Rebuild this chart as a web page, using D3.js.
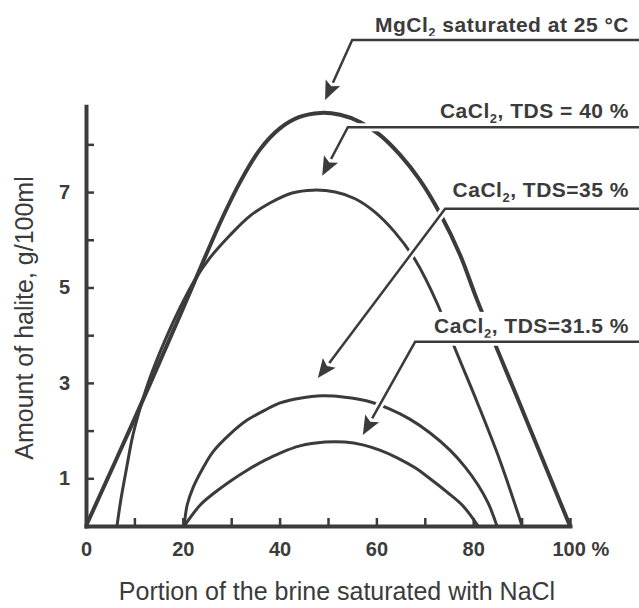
<!DOCTYPE html>
<html>
<head>
<meta charset="utf-8">
<script src="https://cdn.jsdelivr.net/npm/d3@7"></script>
<style>
  body { margin: 0; background: #fff; }
  text { font-family: "Liberation Sans", Arial, sans-serif; fill: #3b3b3b; }
</style>
</head>
<body>
<div id="chart"></div>
<script>
// Halite yield when a brine is mixed with NaCl-saturated brine
// x = portion of brine saturated with NaCl (%), y = halite g/100ml

let mgcl2Sat = [[0, 0], [10, 2.24], [20, 4.55], [28, 6.42], [32, 7.24], [36, 7.9],
    [40, 8.33], [44, 8.57], [48.4, 8.66], [52.5, 8.62], [56.6, 8.47], [60.7, 8.20],
    [64.9, 7.78], [69.0, 7.25], [73.1, 6.56], [77.3, 5.68], [80.8, 4.74], [90.4, 2.37],
    [100, 0]];

let cacl2Tds40 = [[6.4, 0], [7.2, 0.55], [8.3, 1.17], [9.7, 1.91], [11.4, 2.54], [13.2, 3.10],
    [15.9, 3.79], [19.4, 4.57], [22.5, 5.16], [25.6, 5.62], [29.8, 6.10], [33.9, 6.50],
    [38.0, 6.77], [42.6, 6.98], [46.9, 7.04], [51.5, 7.00], [55.6, 6.86], [59.7, 6.58],
    [63.8, 6.16], [68.0, 5.58], [72.5, 4.68], [76.2, 3.73], [80.8, 2.60], [85.5, 1.38],
    [90.1, 0]];

let cacl2Tds35 = [[20.3, 0], [20.9, 0.44], [22.1, 0.80], [24.2, 1.22], [26.2, 1.55],
    [29.8, 1.93], [33.3, 2.22], [37.0, 2.43], [40.1, 2.58], [44.2, 2.68], [48.8, 2.73],
    [53.5, 2.70], [58.1, 2.62], [62.8, 2.45], [66.9, 2.24], [71.1, 1.95], [75.2, 1.59],
    [78.3, 1.24], [81.0, 0.86], [83.1, 0.48], [84.1, 0.23], [84.9, 0]];

let cacl2Tds315 = [[20.3, 0], [23.6, 0.44], [26.2, 0.67], [29.8, 0.94], [33.3, 1.17],
    [37.0, 1.38], [40.1, 1.53], [44.2, 1.68], [49.4, 1.76], [53.5, 1.76], [57.2, 1.70],
    [60.7, 1.59], [64.3, 1.43], [68.0, 1.22], [71.1, 0.99], [74.6, 0.71], [77.9, 0.42],
    [81.0, 0]];

// label text: [before subscript, subscript, after]
let seriesLabels = [
    ["MgCl", "2", " saturated at 25 °C"],
    ["CaCl", "2", ", TDS = 40 %"],
    ["CaCl", "2", ", TDS=35 %"],
    ["CaCl", "2", ", TDS=31.5 %"]
];

let xTicks = [0, 10, 20, 30, 40, 50, 60, 70, 80, 90, 100];
let xTickLabels = ["0", "", "20", "", "40", "", "60", "", "80", "", "100 %"];
let yTicks = [1, 2, 3, 4, 5, 6, 7, 8];
let yTickLabels = ["1", "", "3", "", "5", "", "7", ""];

// where each arrow points (tip) and where it bends (elbow), in chart units
let arrowTips = [[49.4, 8.93], [48.8, 7.34], [47.9, 3.10], [57.2, 1.91]];
let arrowElbows = [[55.0, 10.19], [54.1, 8.36], [74.2, 6.65], [68.0, 3.86]];

let svgWidth = 639;
let svgHeight = 608;
let ink = "#3b3b3b";

let svg = d3.select("#chart")
    .append("svg")
    .attr("width", svgWidth)
    .attr("height", svgHeight);

let x = d3.scaleLinear().domain([0, 100]).range([86, 570]);
let y = d3.scaleLinear().domain([0, 8.8]).range([526, 106.2]);

// curves
let line = d3.line()
    .x(d => x(d[0]))
    .y(d => y(d[1]))
    .curve(d3.curveCatmullRom.alpha(0.5));

let curves = [
    { data: mgcl2Sat, width: 4 },
    { data: cacl2Tds40, width: 3 },
    { data: cacl2Tds35, width: 3 },
    { data: cacl2Tds315, width: 3 }
];

svg.append("g").selectAll("path")
    .data(curves)
    .enter()
    .append("path")
    .attr("d", d => line(d.data))
    .attr("fill", "none")
    .attr("stroke", ink)
    .attr("stroke-width", d => d.width)
    .attr("stroke-linejoin", "round");

// axes
let xAxis = d3.axisBottom(x)
    .tickValues(xTicks)
    .tickSizeInner(-8)
    .tickSizeOuter(0)
    .tickPadding(16)
    .tickFormat((d, i) => xTickLabels[i]);

let yAxis = d3.axisLeft(y)
    .tickValues(yTicks)
    .tickSizeInner(-8)
    .tickSizeOuter(0)
    .tickPadding(16)
    .tickFormat((d, i) => yTickLabels[i]);

let gx = svg.append("g")
    .attr("transform", `translate(0, ${y(0)})`)
    .call(xAxis);

let gy = svg.append("g")
    .attr("transform", `translate(${x(0)}, 0)`)
    .call(yAxis);

[gx, gy].forEach(g => {
    g.select(".domain")
        .attr("stroke", ink)
        .attr("stroke-width", 4)
        .attr("stroke-linecap", "square");
    g.selectAll(".tick line")
        .attr("stroke", ink)
        .attr("stroke-width", 2.5);
    g.selectAll(".tick text")
        .attr("fill", ink)
        .style("font-family", '"Liberation Sans", Arial, sans-serif')
        .style("font-size", "20px")
        .style("font-weight", "bold");
});

gx.selectAll(".tick text")
    .filter(d => d === 100)
    .attr("text-anchor", "start")
    .attr("dx", -18);

// axis titles
svg.append("text")
    .attr("x", 337)
    .attr("y", 600)
    .attr("text-anchor", "middle")
    .style("font-size", "25px")
    .text("Portion of the brine saturated with NaCl");

svg.append("text")
    .attr("transform", "rotate(-90)")
    .attr("x", -318)
    .attr("y", 33)
    .attr("text-anchor", "middle")
    .style("font-size", "25px")
    .text("Amount of halite, g/100ml");

// annotations
let textOffsets = [8, 9, 12, 9];
let annot = svg.append("g");

seriesLabels.forEach((lab, i) => {
    let tip = [x(arrowTips[i][0]), y(arrowTips[i][1])];
    let elbow = [x(arrowElbows[i][0]), y(arrowElbows[i][1])];

    let g = annot.append("g");

    let txt = g.append("text")
        .attr("x", 629)
        .attr("y", elbow[1] - textOffsets[i])
        .attr("text-anchor", "end")
        .style("font-size", "21px")
        .style("letter-spacing", "0.5px")
        .style("font-weight", "bold");
    txt.append("tspan").text(lab[0]);
    txt.append("tspan").attr("dy", 5).style("font-size", "13px").text(lab[1]);
    txt.append("tspan").attr("dy", -5).text(lab[2]);

    let bb = txt.node().getBBox();
    g.insert("rect", "text")
        .attr("x", bb.x - 3)
        .attr("y", bb.y - 2)
        .attr("width", bb.width + 6)
        .attr("height", bb.height + 4)
        .attr("fill", "#fff");

    // leader ends at the arrowhead base
    let dx = tip[0] - elbow[0], dy = tip[1] - elbow[1];
    let len = Math.sqrt(dx * dx + dy * dy);
    let ux = dx / len, uy = dy / len;
    let headLen = 19, headHalf = 8;
    let base = [tip[0] - ux * headLen, tip[1] - uy * headLen];

    let leader = `M${svgWidth},${elbow[1]}H${elbow[0]}L${base[0]},${base[1]}`;
    g.append("path")
        .attr("d", leader)
        .attr("fill", "none")
        .attr("stroke", "#fff")
        .attr("stroke-width", 8);
    g.append("path")
        .attr("d", leader)
        .attr("fill", "none")
        .attr("stroke", ink)
        .attr("stroke-width", 2.5);

    g.append("path")
        .attr("d", `M${tip[0]},${tip[1]}` +
            `L${base[0] - uy * headHalf},${base[1] + ux * headHalf}` +
            `L${tip[0] - ux * headLen * 0.8},${tip[1] - uy * headLen * 0.8}` +
            `L${base[0] + uy * headHalf},${base[1] - ux * headHalf}Z`)
        .attr("fill", ink);
});
</script>
</body>
</html>
